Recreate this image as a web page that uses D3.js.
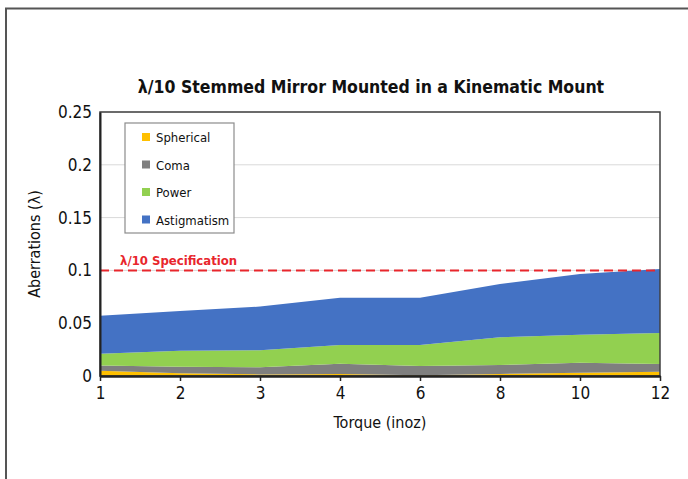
<!DOCTYPE html>
<html>
<head>
<meta charset="utf-8">
<script src="https://cdn.jsdelivr.net/npm/d3@7/dist/d3.min.js"></script>
<style>
  body { margin: 0; background: #fff; }
  svg { display: block; font-family: 'DejaVu Sans Condensed', 'Liberation Sans Narrow', 'DejaVu Sans', sans-serif; font-stretch: condensed; }
</style>
</head>
<body>
<script>
// data
const torque = ['1', '2', '3', '4', '6', '8', '10', '12']
const spherical   = [0.005, 0.0025, 0.0015, 0.002, 0.0007, 0.002, 0.003, 0.004]
const coma        = [0.0050, 0.0063, 0.0067, 0.0097, 0.0088, 0.0084, 0.0096, 0.0074]
const power       = [0.0111, 0.0152, 0.0161, 0.0177, 0.0199, 0.0262, 0.0265, 0.0293]
const astigmatism = [0.036, 0.0376, 0.0414, 0.0448, 0.0448, 0.0505, 0.0575, 0.0606]
const seriesNames = ['Spherical', 'Coma', 'Power', 'Astigmatism']
const colors = ['#ffc000', '#7f7f7f', '#92d050', '#4472c4']
const yTicks = [0, 0.05, 0.1, 0.15, 0.2, 0.25]
const spec = 0.1

const W = 688, H = 479
const margin = {top: 112, right: 28, bottom: 103, left: 100}
const width = W - margin.left - margin.right
const height = H - margin.top - margin.bottom

const svg = d3.select('body').append('svg')
  .attr('width', W)
  .attr('height', H)

// outer frame (only top and left edges show)
svg.append('path')
  .attr('d', `M6,${H} V8.5 H${W}`)
  .attr('fill', 'none')
  .attr('stroke', '#555')
  .attr('stroke-width', 2)

const g = svg.append('g')
  .attr('transform', `translate(${margin.left},${margin.top})`)

const x = d3.scalePoint().domain(torque).range([0, width])
const y = d3.scaleLinear().domain([0, 0.25]).range([height, 0])

const table = torque.map((t, i) => ({
  t,
  Spherical: spherical[i],
  Coma: coma[i],
  Power: power[i],
  Astigmatism: astigmatism[i]
}))
const stacked = d3.stack().keys(seriesNames)(table)

// gridlines
g.append('g')
  .selectAll('line')
  .data(yTicks.slice(1))
  .join('line')
  .attr('x1', 0).attr('x2', width)
  .attr('y1', d => y(d)).attr('y2', d => y(d))
  .attr('stroke', '#d9d9d9')
  .attr('stroke-width', 1)

const area = d3.area()
  .x(d => x(d.data.t))
  .y0(d => y(d[0]))
  .y1(d => y(d[1]))

g.append('g')
  .selectAll('path')
  .data(stacked)
  .join('path')
  .attr('d', area)
  .attr('fill', (d, i) => colors[i])

// spec line
g.append('line')
  .attr('x1', 0).attr('x2', width)
  .attr('y1', y(spec)).attr('y2', y(spec))
  .attr('stroke', '#e8262c')
  .attr('stroke-width', 2)
  .attr('stroke-dasharray', '9,5')

g.append('text')
  .attr('x', 20)
  .attr('y', y(spec) - 5)
  .attr('fill', '#e8262c')
  .attr('font-size', 13)
  .attr('font-weight', 'bold')
  .text('λ/10 Specification')

// plot border
g.append('rect')
  .attr('width', width)
  .attr('height', height)
  .attr('fill', 'none')
  .attr('stroke', '#404040')
  .attr('stroke-width', 1.5)

// axes
const xAxis = g.append('g')
  .attr('font-family', null)
  .attr('transform', `translate(0,${height})`)
  .call(d3.axisBottom(x).tickSize(5).tickPadding(6).tickSizeOuter(0))
xAxis.attr('font-family', null)
xAxis.select('.domain').attr('stroke', '#222').attr('stroke-width', 2.5)
xAxis.selectAll('.tick line').attr('stroke', '#222').attr('stroke-width', 1.5)
xAxis.selectAll('text').attr('font-size', 17).attr('fill', '#111')

const yAxis = g.append('g')
  .call(d3.axisLeft(y).tickValues(yTicks).tickFormat(d => d3.format('')(+d.toFixed(2))).tickSize(0).tickPadding(8))
yAxis.attr('font-family', null)
yAxis.select('.domain').attr('stroke', '#222').attr('stroke-width', 2)
yAxis.selectAll('text').attr('font-size', 17).attr('fill', '#111')

// titles
svg.append('text')
  .attr('x', 371)
  .attr('y', 93)
  .attr('text-anchor', 'middle')
  .attr('font-size', 17.5)
  .attr('font-weight', 'bold')
  .attr('fill', '#111')
  .text('λ/10 Stemmed Mirror Mounted in a Kinematic Mount')

svg.append('text')
  .attr('x', margin.left + width / 2)
  .attr('y', 428)
  .attr('text-anchor', 'middle')
  .attr('font-size', 16)
  .attr('fill', '#111')
  .text('Torque (inoz)')

svg.append('text')
  .attr('transform', `translate(40,${margin.top + height / 2}) rotate(-90)`)
  .attr('text-anchor', 'middle')
  .attr('font-size', 16)
  .attr('fill', '#111')
  .text('Aberrations (λ)')

// legend
const legend = svg.append('g').attr('transform', 'translate(125,123)')
legend.append('rect')
  .attr('width', 109)
  .attr('height', 110)
  .attr('fill', '#fff')
  .attr('stroke', '#8c8c8c')
  .attr('stroke-width', 1.2)
const items = legend.selectAll('g.item')
  .data(seriesNames)
  .join('g')
  .attr('class', 'item')
  .attr('transform', (d, i) => `translate(17,${14 + i * 27.5})`)
items.append('rect')
  .attr('x', 0).attr('y', -4)
  .attr('width', 8).attr('height', 8)
  .attr('fill', (d, i) => colors[i])
items.append('text')
  .attr('x', 14)
  .attr('y', 5)
  .attr('font-size', 13)
  .attr('fill', '#111')
  .text(d => d)
</script>
</body>
</html>
